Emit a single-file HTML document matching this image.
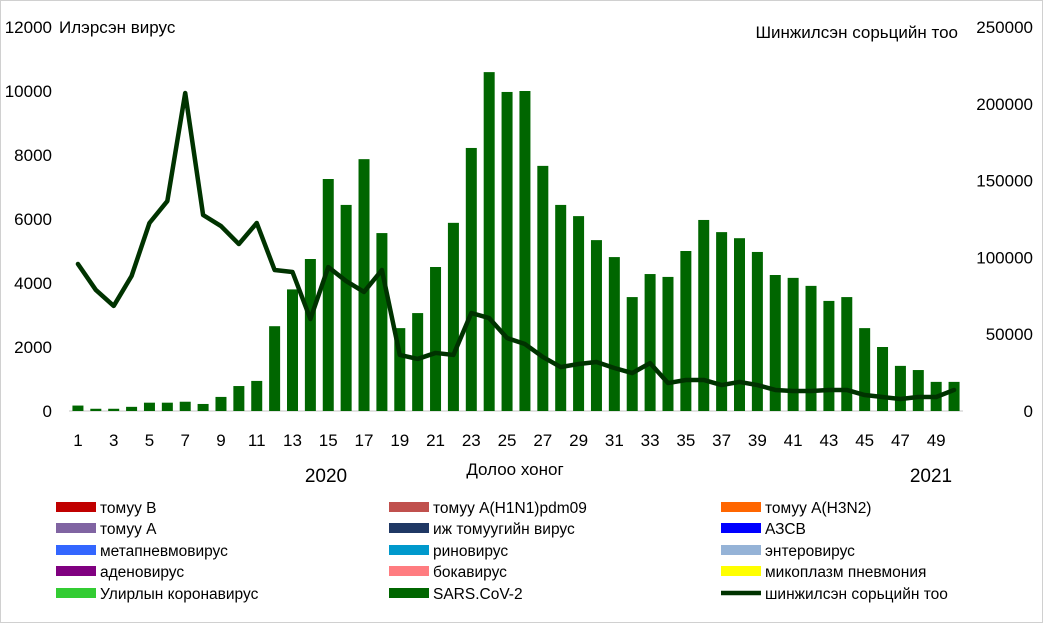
<!DOCTYPE html>
<html><head><meta charset="utf-8"><style>
body{margin:0;background:#fff}
svg text{font-family:"Liberation Sans","DejaVu Sans",sans-serif;fill:#000}
</style></head><body>
<svg width="1043" height="623" viewBox="0 0 1043 623">
<rect x="0.5" y="0.5" width="1042" height="622" fill="#fff" stroke="#d0d0d0"/>
<g id="plot"></g>
<text x="59" y="33" font-size="17">Илэрсэн вирус</text>
<text x="958" y="38" font-size="17" text-anchor="end">Шинжилсэн сорьцийн тоо</text>
<text x="515" y="475" font-size="17" text-anchor="middle">Долоо хоног</text>
<text x="326" y="482" font-size="19" text-anchor="middle">2020</text>
<text x="931" y="482" font-size="19" text-anchor="middle">2021</text>
<g id="legend"></g>
</svg>
<script>
const weeks=[];for(let i=1;i<=50;i++)weeks.push(i);
const sarsCov2=[170,70,70,130,260,260,290,220,440,780,940,2650,3800,4750,7250,6440,7870,5560,2590,3060,4500,5880,8220,10590,9970,10000,7660,6440,6090,5340,4810,3560,4280,4190,5000,5970,5590,5400,4970,4250,4160,3910,3440,3560,2590,2000,1410,1280,910,910];
const samples=[95700,78800,68400,87900,122400,136700,207000,127600,120400,108700,122400,91800,90500,59900,93700,84600,77500,91800,36500,33900,37800,36500,63800,60500,47500,43600,35200,28600,30600,31900,28000,24700,31200,18200,20200,20200,16900,18900,16900,13700,13000,13000,13700,13700,10400,9100,7800,9100,9100,13700];
const leftTicks=[0,2000,4000,6000,8000,10000,12000];
const rightTicks=[0,50000,100000,150000,200000,250000];
const legendLabels=["томуу B","томуу A(H1N1)pdm09","томуу A(H3N2)","томуу A","иж томуугийн вирус","АЗСВ","метапневмовирус","риновирус","энтеровирус","аденовирус","бокавирус","микоплазм пневмония","Улирлын коронавирус","SARS.CoV-2","шинжилсэн сорьцийн тоо"];
const legendColors=["#c00000","#c0504d","#ff6600","#8064a2","#1f3864","#0000ff","#3366ff","#0099cc","#95b3d7","#800080","#ff7c80","#ffff00","#33cc33","#006600","#003300"];

const NS="http://www.w3.org/2000/svg";
const x0=69,x1=963,yB=411,yT=27;
const xs=i=>x0+(x1-x0)*(i+0.5)/weeks.length;
const yl=v=>yB-(yB-yT)*v/12000;
const yr=v=>yB-(yB-yT)*v/250000;
function mk(t,a,p){const e=document.createElementNS(NS,t);for(const k in a)e.setAttribute(k,a[k]);p.appendChild(e);return e;}
const plot=document.getElementById('plot');
const base=mk('line',{x1:x0,x2:x1,y1:yB,y2:yB,stroke:'#d9d9d9','stroke-width':1.5},plot);


leftTicks.forEach(v=>{const t=mk('text',{x:52,y:yl(v)+6,'font-size':17,'text-anchor':'end'},plot);t.textContent=v;

});
rightTicks.forEach(v=>{const t=mk('text',{x:1033,y:yr(v)+6,'font-size':17,'text-anchor':'end'},plot);t.textContent=v;

});
weeks.forEach((w,i)=>{if(w%2===1){const t=mk('text',{x:xs(i),y:446,'font-size':17,'text-anchor':'middle'},plot);t.textContent=w;

}});
sarsCov2.forEach((v,i)=>{const r=mk('rect',{x:xs(i)-5.5,y:yl(v),width:11,height:yB-yl(v),fill:'#006600'},plot);

});
const pl=mk('polyline',{points:samples.map((v,i)=>xs(i)+','+yr(v)).join(' '),fill:'none',stroke:'#003300','stroke-width':4.5,'stroke-linejoin':'round','stroke-linecap':'round'},plot);


const lg=document.getElementById('legend');
const colX=[56,389,721],rowY=[507,528,550,571,593];
legendLabels.forEach((lab,i)=>{const cx=colX[i%3],cy=rowY[Math.floor(i/3)];
const g=mk('g',{},lg);


if(i===14)mk('line',{x1:cx,x2:cx+40,y1:cy,y2:cy,stroke:legendColors[i],'stroke-width':4.5},g);
else mk('rect',{x:cx,y:cy-5,width:40,height:10,fill:legendColors[i]},g);
const t=mk('text',{x:cx+44,y:cy+6,'font-size':15.5},g);t.textContent=lab;});
</script>
</body></html>
